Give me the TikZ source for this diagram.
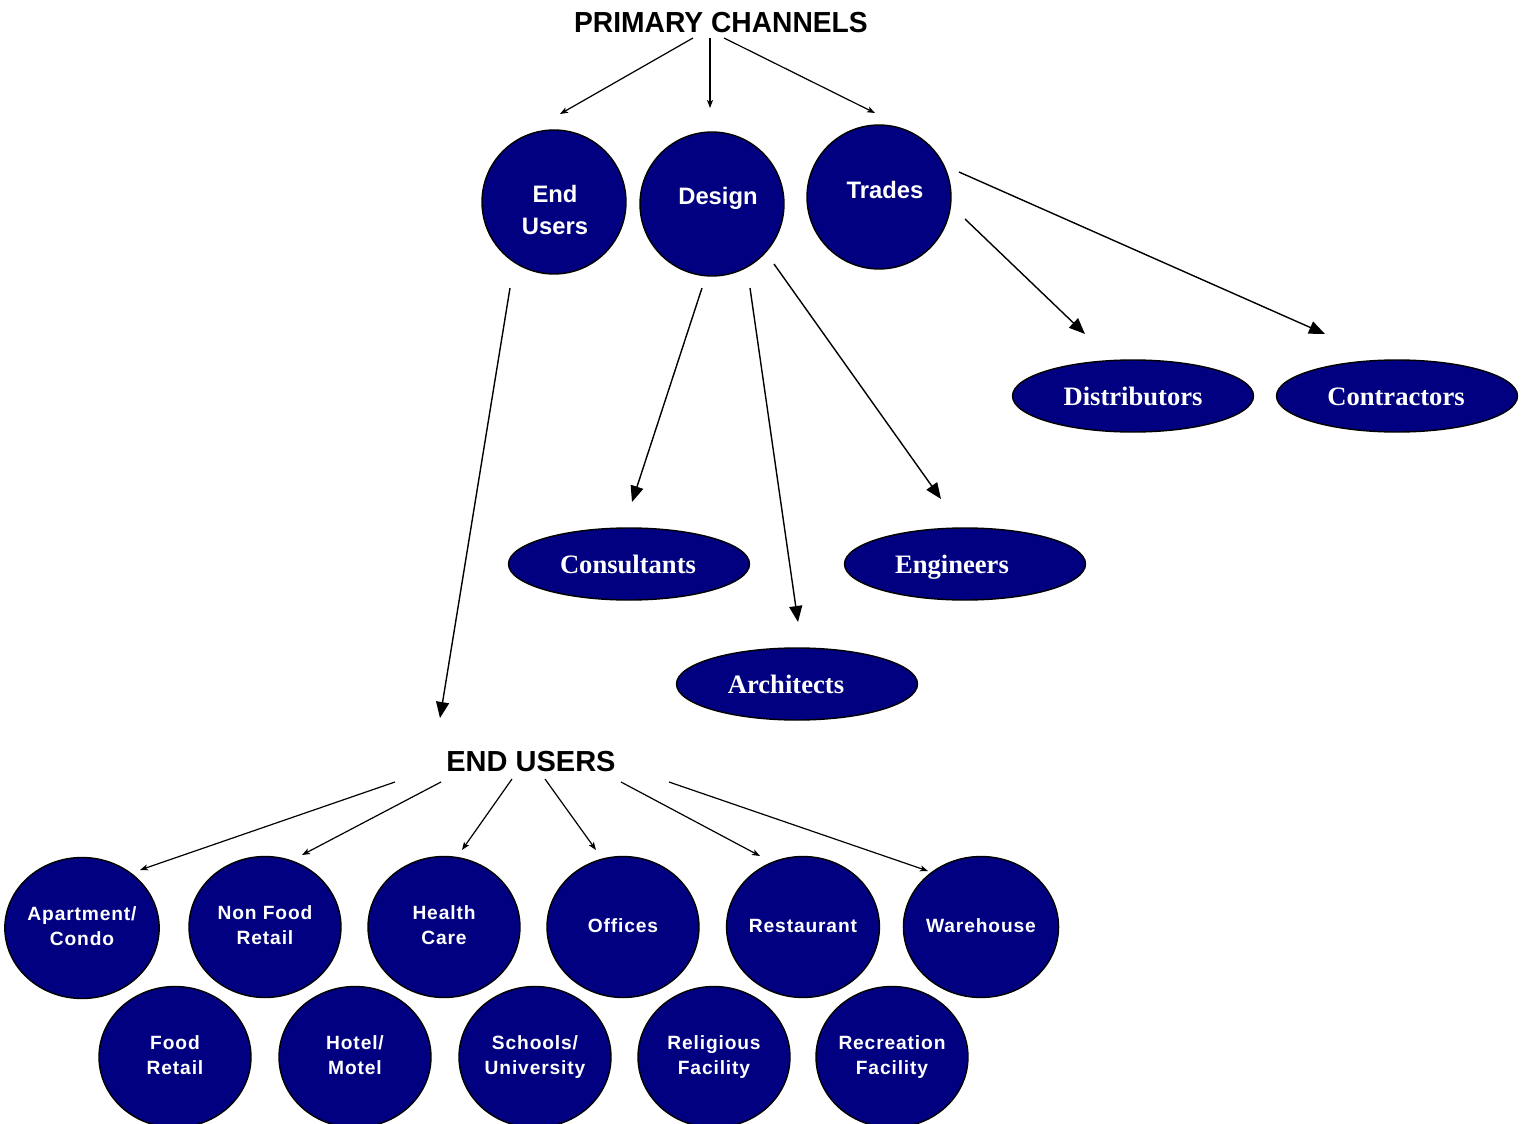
\documentclass[tikz,border=0pt]{standalone}
\usepackage{fontspec}
\setmainfont{Liberation Sans}
\newfontfamily\timesbold{Liberation Serif}[BoldFont={* Bold}]
\usetikzlibrary{arrows.meta,shapes.geometric}
\definecolor{navyfill}{RGB}{0,0,128}
\tikzset{
  x=0.5pt, y=-0.5pt,
  title/.style={font=\bfseries\fontsize{14.5}{16}\selectfont, inner sep=0pt},
  bigc/.style={circle, draw=black, line width=0.7pt, fill=navyfill, minimum size=72pt, inner sep=0pt},
  ctext/.style={text=white, font=\bfseries\fontsize{11.9}{16}\selectfont, align=center, inner sep=0pt},
  oval/.style={ellipse, draw=black, line width=0.7pt, fill=navyfill, minimum width=120.5pt, minimum height=36pt, inner sep=0pt},
  otext/.style={anchor=base, text=white, font=\timesbold\bfseries\fontsize{13.3}{15}\selectfont, inner sep=0pt},
  smallc/.style={ellipse, draw=black, line width=0.7pt, fill=navyfill, minimum width=76pt, minimum height=70.5pt,
    text=white, font=\bfseries\fontsize{9.6}{12.5}\selectfont\addfontfeature{LetterSpace=4.5}, align=center, inner sep=0pt},
  thin arrow/.style={line width=0.6pt, -{Stealth[length=4pt, width=3pt, inset=1pt]}},
  big arrow/.style={line width=0.7pt, -{Triangle[length=8pt, width=6.5pt]}},
}
\begin{document}
\begin{tikzpicture}
\useasboundingbox (0,0) rectangle (1528,1124);

% top level
\node[title] (pc) at (721,23) {\scalebox{0.973}[1]{PRIMARY CHANNELS}};

\node[bigc] (eu) at (554,202) {};
\node[ctext] (eut) at (555,210) {End\\Users};
\node[bigc] (de) at (712,204) {};
\node[ctext] (det) at (718,198) {Design};
\node[bigc] (tr) at (879,197) {};
\node[ctext] (trt) at (885,190) {Trades};

% second level ovals
\node[oval] (dist) at (1133,396) {};
\node[otext] (distt) at (1133,405) {Distributors};
\node[oval] (cont) at (1397,396) {};
\node[otext] (contt) at (1396,405) {Contractors};
\node[oval] (cons) at (629,564) {};
\node[otext] (const) at (628,573) {Consultants};
\node[oval] (eng) at (965,564) {};
\node[otext] (engt) at (952,573) {Engineers};
\node[oval] (arch) at (797,684) {};
\node[otext] (archt) at (786,693) {Architects};

% end users heading
\node[title] (eus) at (531,762) {END USERS};

% end user segments
\node[smallc] (apt) at (82,928) {\strut Apartment/\\\strut Condo};
\node[smallc] (nfr) at (265,927) {\strut Non Food\\\strut Retail};
\node[smallc] (hc) at (444,927) {\strut Health\\\strut Care};
\node[smallc] (off) at (623,927) {\strut Offices};
\node[smallc] (rest) at (803,927) {\strut Restaurant};
\node[smallc] (wh) at (981,927) {\strut Warehouse};
\node[smallc] (fr) at (175,1057) {\strut Food\\\strut Retail};
\node[smallc] (hm) at (355,1057) {\strut Hotel/\\\strut Motel};
\node[smallc] (sch) at (535,1057) {\strut Schools/\\\strut University};
\node[smallc] (rel) at (714,1057) {\strut Religious\\\strut Facility};
\node[smallc] (rec) at (892,1057) {\strut Recreation\\\strut Facility};

% connector end points
\coordinate (pc1) at (693,38);  \coordinate (eu-in) at (560,114);
\coordinate (pc2) at (710,38);  \coordinate (de-in) at (710,108);
\coordinate (pc3) at (724,38);  \coordinate (tr-in) at (875,113);

\coordinate (tr1) at (965,219); \coordinate (dist-in) at (1085,334);
\coordinate (tr2) at (959,172); \coordinate (cont-in) at (1325,334);

\coordinate (de1) at (702,288); \coordinate (cons-in) at (632,502);
\coordinate (de2) at (750,288); \coordinate (arch-in) at (798,622);
\coordinate (de3) at (774,264); \coordinate (eng-in) at (941,499);

\coordinate (eu1) at (510,288); \coordinate (eus-in) at (440,718);

\coordinate (e1) at (395,782); \coordinate (apt-in) at (140,870);
\coordinate (e2) at (441,782); \coordinate (nfr-in) at (302,855);
\coordinate (e3) at (512,779); \coordinate (hc-in) at (462,850);
\coordinate (e4) at (545,779); \coordinate (off-in) at (596,850);
\coordinate (e5) at (621,782); \coordinate (rest-in) at (760,856);
\coordinate (e6) at (669,782); \coordinate (wh-in) at (928,871);

% connectors
\draw[thin arrow] (pc1) -- (eu-in);
\draw[thin arrow] (pc2) -- (de-in);
\draw[thin arrow] (pc3) -- (tr-in);

\draw[big arrow] (tr1) -- (dist-in);
\draw[big arrow] (tr2) -- (cont-in);
\draw[big arrow] (de1) -- (cons-in);
\draw[big arrow] (de2) -- (arch-in);
\draw[big arrow] (de3) -- (eng-in);
\draw[big arrow] (eu1) -- (eus-in);

\draw[thin arrow] (e1) -- (apt-in);
\draw[thin arrow] (e2) -- (nfr-in);
\draw[thin arrow] (e3) -- (hc-in);
\draw[thin arrow] (e4) -- (off-in);
\draw[thin arrow] (e5) -- (rest-in);
\draw[thin arrow] (e6) -- (wh-in);
\end{tikzpicture}
\end{document}
